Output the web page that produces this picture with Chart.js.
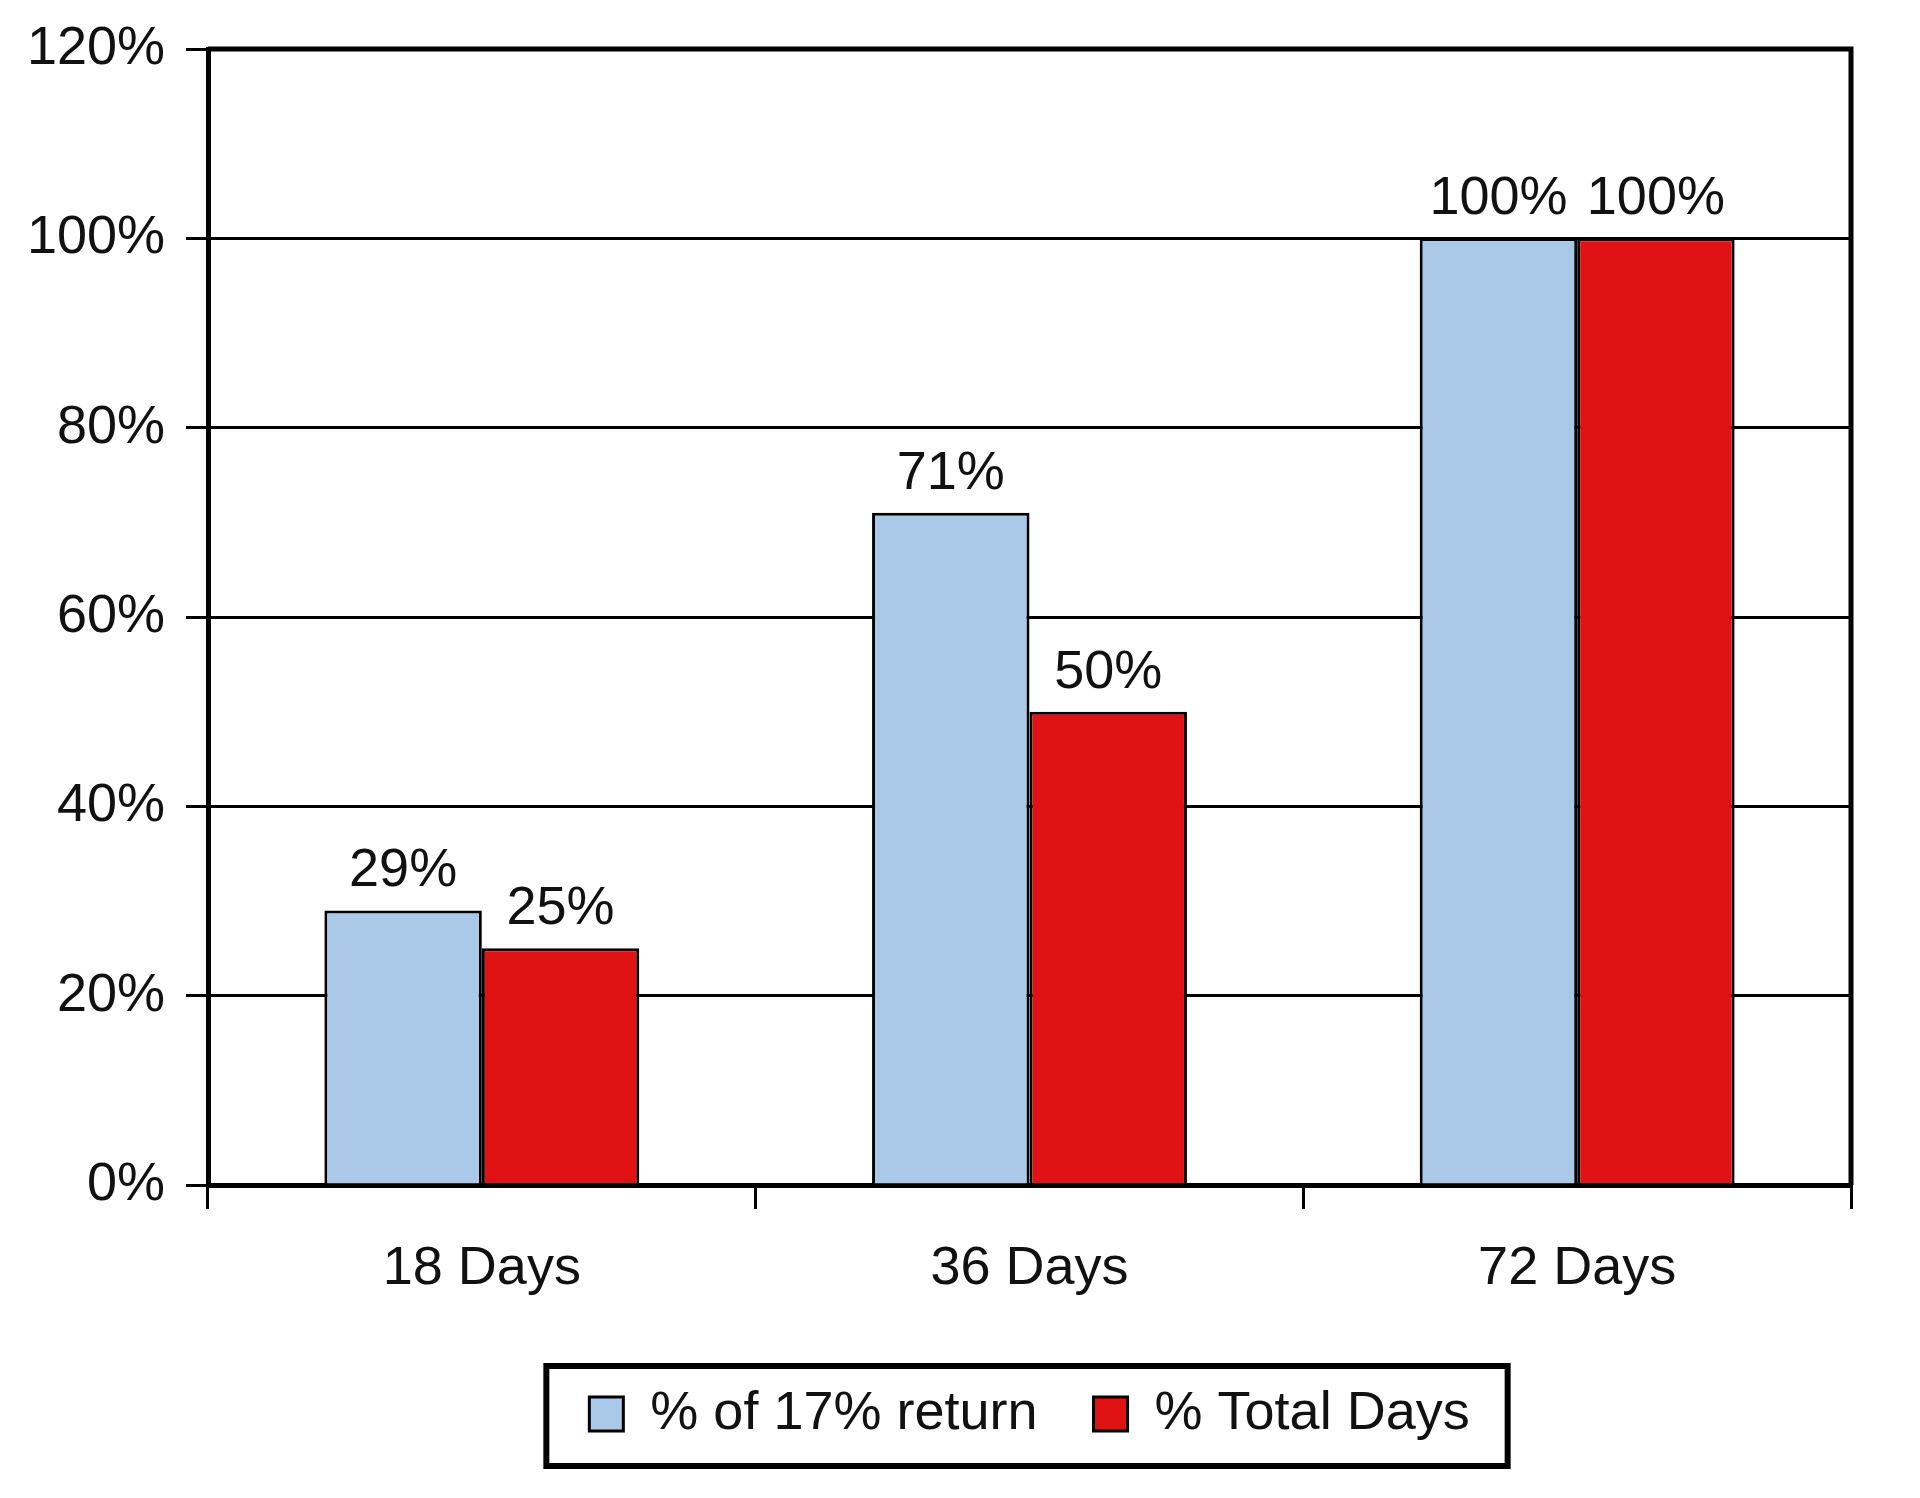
<!DOCTYPE html>
<html>
<head>
<meta charset="utf-8">
<script src="https://cdn.jsdelivr.net/npm/chart.js@4.4.1/dist/chart.umd.min.js"></script>
<style>
  html, body { margin: 0; padding: 0; background: #fff; }
  canvas { display: block; }
</style>
</head>
<body>
<canvas id="daysChart" width="1920" height="1498"></canvas>
<script>
const categories = ['18 Days', '36 Days', '72 Days'];
const returnShare = [29, 71, 100];
const daysShare = [25, 50, 100];
const seriesNames = ['% of 17% return', '% Total Days'];

const FONT = "'Liberation Sans', Arial, Helvetica, sans-serif";
const FS = 54;

// labels above each bar
const valueLabels = {
    id: 'valueLabels',
    afterDatasetsDraw(chart) {
        const ctx = chart.ctx;
        ctx.save();
        ctx.font = FS + 'px ' + FONT;
        ctx.fillStyle = '#111';
        ctx.textAlign = 'center';
        ctx.textBaseline = 'alphabetic';
        chart.data.datasets.forEach((ds, i) => {
            chart.getDatasetMeta(i).data.forEach((bar, j) => {
                ctx.fillText(ds.data[j] + '%', bar.x, bar.y - 24);
            });
        });
        ctx.restore();
    }
};

// thick frame round the plot and the legend
const frames = {
    id: 'frames',
    afterDraw(chart) {
        const ctx = chart.ctx;
        const a = chart.chartArea;
        ctx.save();
        ctx.strokeStyle = '#000';
        ctx.lineWidth = 5;
        ctx.beginPath();
        ctx.moveTo(a.left, a.top);
        ctx.lineTo(a.right, a.top);
        ctx.lineTo(a.right, a.bottom);
        ctx.stroke();

        const boxes = chart.legend.legendHitBoxes;
        if (boxes && boxes.length) {
            const first = boxes[0];
            const last = boxes[boxes.length - 1];
            const cy = first.top + first.height / 2;
            const x0 = first.left - 43;
            const x1 = last.left + last.width + 38;
            ctx.lineWidth = 6;
            ctx.strokeRect(x0, cy - 48, x1 - x0, 100);
        }
        ctx.restore();
    }
};

new Chart(document.getElementById('daysChart'), {
    type: 'bar',
    data: {
        labels: categories,
        datasets: [{
            label: seriesNames[0],
            data: returnShare,
            backgroundColor: '#AAC8E8',
            borderColor: '#000',
            borderWidth: 3
        }, {
            label: seriesNames[1],
            data: daysShare,
            backgroundColor: '#E01214',
            borderColor: '#000',
            borderWidth: 3
        }]
    },
    options: {
        responsive: false,
        animation: false,
        categoryPercentage: 0.575,
        barPercentage: 1,
        layout: {
            padding: { top: 49, right: 69, left: 0, bottom: 47 }
        },
        plugins: {
            tooltip: { enabled: false },
            legend: {
                position: 'bottom',
                fullSize: false,
                labels: {
                    color: '#111',
                    font: { family: FONT, size: FS },
                    boxWidth: 34,
                    boxHeight: 34,
                    padding: 56
                }
            }
        },
        scales: {
            x: {
                afterFit(scale) { scale.height = 146; },
                grid: {
                    drawOnChartArea: false,
                    color: '#000',
                    lineWidth: 3,
                    tickLength: 24
                },
                border: { color: '#000', width: 5 },
                ticks: {
                    color: '#111',
                    font: { family: FONT, size: FS },
                    padding: 28
                }
            },
            y: {
                min: 0,
                max: 120,
                afterFit(scale) {
                    scale.width = 208;
                    scale.paddingTop = 0;
                    scale.paddingBottom = 0;
                },
                grid: {
                    color: '#000',
                    lineWidth: 3,
                    tickLength: 22
                },
                border: { color: '#000', width: 5 },
                ticks: {
                    stepSize: 20,
                    color: '#111',
                    font: { family: FONT, size: FS },
                    padding: 21,
                    callback: v => v + '%'
                }
            }
        }
    },
    plugins: [valueLabels, frames]
});
</script>
</body>
</html>
